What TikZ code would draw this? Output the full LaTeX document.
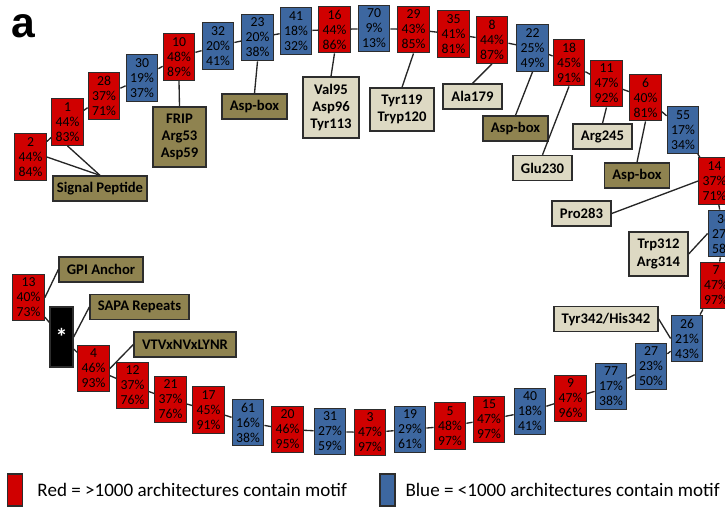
\documentclass[tikz,border=0pt]{standalone}
\usepackage{fontspec}
\setmainfont{Carlito}
\newfontfamily\headfont{Liberation Sans}
\usepackage{tikz}
\tikzset{every picture/.style={line width=0.75pt}}
\definecolor{motifred}{RGB}{208,0,0}
\definecolor{motifblue}{RGB}{61,103,160}
\definecolor{domainolive}{RGB}{143,131,80}
\definecolor{sitebeige}{RGB}{221,217,195}
\definecolor{edgegray}{RGB}{45,45,45}
\tikzset{
	motif/.style={draw=edgegray, line width=1pt, align=center, inner sep=0pt, minimum width=23.6pt, minimum height=34.9pt, font=\fontsize{10.3}{11.3}\selectfont},
	redmotif/.style={motif, fill=motifred},
	bluemotif/.style={motif, fill=motifblue},
	tagbox/.style={draw=edgegray, line width=1pt, align=center, inner xsep=2pt, inner ysep=2pt, minimum height=18.75pt, font=\fontsize{11}{13}\selectfont\bfseries},
	olivebox/.style={tagbox, fill=domainolive},
	beigebox/.style={tagbox, fill=sitebeige},
	link/.style={draw=black!85, line width=1pt}
}

\begin{document}
\begin{tikzpicture}[x=0.75pt,y=0.75pt,yscale=-1,xscale=1]
		\useasboundingbox (0,0) rectangle (725,512);
		\clip (0,0) rectangle (725,512);
		
		% Text Node
		\node [font=\headfont\bfseries\fontsize{32}{32}\selectfont, inner sep=0pt] (panel) at (23.5,26) {a};
		
		%Motif boxes, top row
		\node [redmotif] (b2) at (30.5,157) {2\\44\%\\84\%};
		\node [redmotif] (b1) at (67.5,122) {1\\44\%\\83\%};
		\node [redmotif] (b28) at (104,96) {28\\37\%\\71\%};
		\node [bluemotif] (b30) at (142,78) {30\\19\%\\37\%};
		\node [redmotif] (b10) at (179,57) {10\\48\%\\89\%};
		\node [bluemotif] (b32) at (218,46) {32\\20\%\\41\%};
		\node [bluemotif] (b23) at (257.5,37.5) {23\\20\%\\38\%};
		\node [bluemotif] (b41) at (296,31) {41\\18\%\\32\%};
		\node [redmotif] (b16) at (334.5,29.5) {16\\44\%\\86\%};
		\node [bluemotif] (b70) at (374,28.5) {70\\9\%\\13\%};
		\node [redmotif] (b29) at (413.5,29.5) {29\\43\%\\85\%};
		\node [redmotif] (b35) at (453.5,34) {35\\41\%\\81\%};
		\node [redmotif] (b8) at (492,40) {8\\44\%\\87\%};
		\node [bluemotif] (b22) at (532.5,48) {22\\25\%\\49\%};
		\node [redmotif] (b18) at (569,62.5) {18\\45\%\\91\%};
		\node [redmotif] (b11) at (606.5,83.5) {11\\47\%\\92\%};
		\node [redmotif] (b6) at (645.5,97.5) {6\\40\%\\81\%};
		\node [bluemotif] (b55) at (683,130) {55\\17\%\\34\%};
		
		%Motif boxes, right side
		\node [redmotif] (b14) at (714.5,181) {14\\37\%\\71\%};
		\node [bluemotif] (b36) at (724,233.5) {36\\27\%\\58\%};
		\node [redmotif] (b7) at (716,285.5) {7\\47\%\\97\%};
		\node [bluemotif] (b26) at (687,338.5) {26\\21\%\\43\%};
		
		%Motif boxes, bottom row
		\node [bluemotif] (b27) at (651,366.5) {27\\23\%\\50\%};
		\node [bluemotif] (b77) at (611,386.5) {77\\17\%\\38\%};
		\node [redmotif] (b9) at (570.5,398.5) {9\\47\%\\96\%};
		\node [bluemotif] (b40) at (530,411.5) {40\\18\%\\41\%};
		\node [redmotif] (b15) at (489,419.5) {15\\47\%\\97\%};
		\node [redmotif] (b5) at (450,426) {5\\48\%\\97\%};
		\node [bluemotif] (b19) at (410,429.5) {19\\29\%\\61\%};
		\node [redmotif] (b3) at (370,432.5) {3\\47\%\\97\%};
		\node [bluemotif] (b31) at (330,431.5) {31\\27\%\\59\%};
		\node [redmotif] (b20) at (287.5,429.5) {20\\46\%\\95\%};
		\node [bluemotif] (b61) at (248,422.5) {61\\16\%\\38\%};
		\node [redmotif] (b17) at (208.5,410) {17\\45\%\\91\%};
		\node [redmotif] (b21) at (170.5,399.5) {21\\37\%\\76\%};
		\node [redmotif] (b12) at (132.5,385.5) {12\\37\%\\76\%};
		\node [redmotif] (b4) at (93.5,368.5) {4\\46\%\\93\%};
		\node [draw=edgegray, line width=1pt, fill=black, text=white, inner sep=0pt, minimum width=17.25pt, minimum height=45pt, font=\fontsize{18}{18}\selectfont\bfseries] (star) at (61.5,337) {*};
		\node [redmotif] (b13) at (28.5,297.5) {13\\40\%\\73\%};
		
		%Chain
		\foreach \from/\to in {b2/b1, b1/b28, b28/b30, b30/b10, b10/b32, b32/b23, b23/b41, b41/b16, b16/b70, b70/b29, b29/b35, b35/b8, b8/b22, b22/b18, b18/b11, b11/b6, b6/b55, b55/b14, b14/b36, b36/b7, b7/b26, b26/b27, b27/b77, b77/b9, b9/b40, b40/b15, b15/b5, b5/b19, b19/b3, b3/b31, b31/b20, b20/b61, b61/b17, b17/b21, b21/b12, b12/b4, b4/star, star/b13}
		\draw [link] (\from) -- (\to);
		
		%Labels
		\node [olivebox, minimum width=70.5pt] (sigpep) at (100,188.5) {Signal Peptide};
		\node [olivebox, minimum width=39.75pt, minimum height=45pt] (frip) at (179.5,137) {FRIP\\Arg53\\Asp59};
		\node [olivebox, minimum width=48.75pt] (aspA) at (254.5,106.5) {Asp-box};
		\node [beigebox, minimum width=42pt, minimum height=45.75pt] (val95) at (331,107.5) {Val95\\Asp96\\Tyr113};
		\node [beigebox, minimum width=48pt, minimum height=32.25pt] (tyr119) at (402,109.5) {Tyr119\\Tryp120};
		\node [beigebox, minimum width=44.25pt] (ala179) at (472.5,96.5) {Ala179};
		\node [olivebox, minimum width=48.75pt] (aspB) at (515.5,128.5) {Asp-box};
		\node [beigebox, minimum width=44.25pt] (glu230) at (542.5,168) {Glu230};
		\node [beigebox, minimum width=44.25pt] (arg245) at (602.5,136.5) {Arg245};
		\node [olivebox, minimum width=48.75pt] (aspC) at (637,175.5) {Asp-box};
		\node [beigebox, minimum width=44.25pt] (pro283) at (581.5,213.5) {Pro283};
		\node [beigebox, minimum width=44.25pt, minimum height=33pt] (trp312) at (658.5,254) {Trp312\\Arg314};
		\node [beigebox, minimum width=78pt] (tyr342) at (606,319) {Tyr342/His342};
		\node [olivebox, minimum width=63pt] (gpi) at (101,269.5) {GPI Anchor};
		\node [olivebox, minimum width=74.25pt] (sapa) at (139.5,307) {SAPA Repeats};
		\node [olivebox, minimum width=76.5pt] (vtv) at (185,344.5) {VTVxNVxLYNR};
		
		%Label lines
		\draw [link] (b2.east) -- (sigpep.north);
		\draw [link] (b1.south) -- (sigpep.north);
		\draw [link] (b10.south) -- (frip.north);
		\draw [link] (b23.south) -- (aspA.north);
		\draw [link] (b16.south) -- (val95.north);
		\draw [link] (b29.south) -- (tyr119.north);
		\draw [link] (b8.south) -- (ala179.north);
		\draw [link] (b22.south) -- (aspB.north);
		\draw [link] (b18.south) -- (glu230.north);
		\draw [link] (b11.south) -- (arg245.north);
		\draw [link] (b6.south) -- (aspC.north);
		\draw [link] (pro283.east) -- (b14.west);
		\draw [link] (trp312.east) -- (b36.west);
		\draw [link] (tyr342.east) -- (b26.west);
		\draw [link] (b13.east) -- (gpi.west);
		\draw [link] (star.east) -- (sapa.west);
		\draw [link] (b4.east) -- (vtv.west);
		
		%Legend
		\node [draw=edgegray, line width=1pt, fill=motifred, inner sep=0pt, minimum width=11.25pt, minimum height=24pt] (keyred) at (15,490) {};
		\node [anchor=west, inner sep=0pt, font=\fontsize{14.3}{14.3}\selectfont] (keyredtext) at (37,490) {Red = >1000 architectures contain motif};
		\node [draw=edgegray, line width=1pt, fill=motifblue, inner sep=0pt, minimum width=11.25pt, minimum height=24pt] (keyblue) at (387.5,490) {};
		\node [anchor=west, inner sep=0pt, font=\fontsize{14.3}{14.3}\selectfont] (keybluetext) at (405,490) {Blue = <1000 architectures contain motif};
		
\end{tikzpicture}
\end{document}
